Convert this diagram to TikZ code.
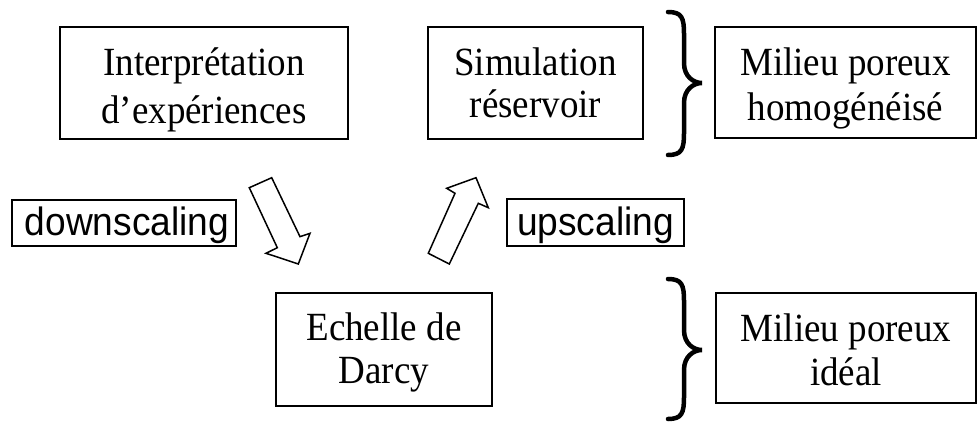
\documentclass[tikz,border=0pt]{standalone}
\usepackage{fontspec}
\setmainfont{Liberation Serif}[FakeStretch=0.925]
\setsansfont{Liberation Sans}[FakeStretch=0.94]
\newcommand\twolines[2]{\begin{tabular}[t]{@{}c@{}}#1\\#2\end{tabular}}
\newcommand\drawbrace[3]{% top y, tip y, bottom y
  \draw[bracestyle] (668,#1) .. controls (682,#1) and (684,#1+6) .. (684,#1+22)
    -- (684,#2-20) .. controls (684,#2-6) and (694,#2) .. (702,#2)
    .. controls (694,#2) and (684,#2+6) .. (684,#2+20)
    -- (684,#3-22) .. controls (684,#3-6) and (682,#3) .. (668,#3);}
\begin{document}
\begin{tikzpicture}[x=1pt,y=-1pt,
  box/.style={draw,line width=1.5pt,inner sep=0pt,text height=0pt},
  lines/.style={font=\fontsize{40}{#1}\selectfont},
  lbl/.style={draw,line width=1.5pt,inner sep=0pt,text depth=0pt,
    font=\sffamily\fontsize{39.5}{44}\selectfont},
  blockarrow/.style={draw,line width=1.5pt,line join=miter,fill=white},
  bracestyle/.style={line width=4.5pt,line cap=round}]
\useasboundingbox (0,0) rectangle (977,423);
\node[box,lines=48,text depth=16pt,minimum width=288pt,minimum height=112pt]
  (interp) at (204,83) {\twolines{Interprétation}{d’expériences}};
\node[box,lines=42,text depth=16pt,minimum width=215pt,minimum height=112pt]
  (simul) at (535.5,83) {\twolines{Simulation}{réservoir}};
\node[box,lines=45,text depth=15pt,minimum width=261pt,minimum height=111pt]
  (homog) at (845.5,82.5) {\twolines{Milieu poreux}{homogénéisé}};
\node[box,lines=42.7,text depth=17.6pt,minimum width=216pt,minimum height=113pt]
  (darcy) at (384,349.5) {\twolines{Echelle de}{Darcy}};
\node[box,lines=43.5,text depth=12.6pt,minimum width=260pt,minimum height=110pt]
  (ideal) at (846,348) {\twolines{Milieu poreux}{idéal}};
\node[lbl,text height=24pt,minimum width=224pt,minimum height=46pt]
  (down) at (124,223) {\hspace{6pt}downscaling};
\node[lbl,text height=25pt,minimum width=177pt,minimum height=47pt]
  (up) at (595.5,222.5) {upscaling};
% block arrows
\draw[blockarrow] (249.3,187.7) -- (271.7,177.7) -- (300,236.7) -- (310,233.3)
  -- (298.3,264) -- (266,253.3) -- (277.3,247.7) -- cycle;
\draw[blockarrow] (428.3,253.3) -- (449.3,264) -- (478.3,203.3) -- (488.3,207.7)
  -- (476,177.7) -- (446.7,188.3) -- (455,193.3) -- cycle;
% braces
\drawbrace{12}{83}{155}
\drawbrace{279}{350}{419}
\end{tikzpicture}
\end{document}
